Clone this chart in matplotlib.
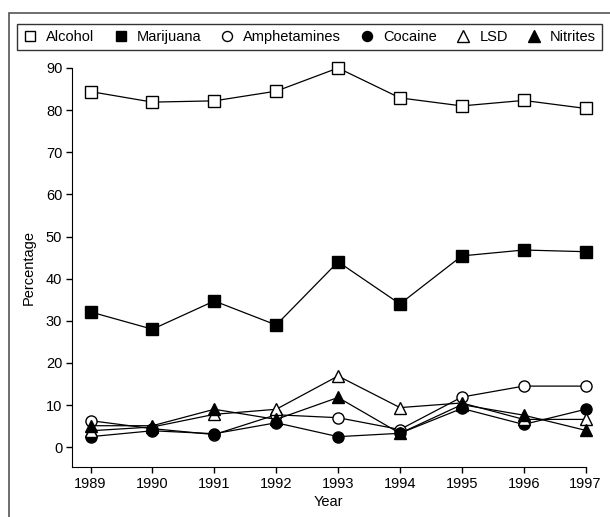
import numpy as np
import matplotlib
matplotlib.use("Agg")
import matplotlib.pyplot as plt
from matplotlib.patches import Rectangle

plt.rcParams['font.family'] = ['Liberation Sans', 'DejaVu Sans']

years = [1989, 1990, 1991, 1992, 1993, 1994, 1995, 1996, 1997]

alcohol      = [84.4, 81.9, 82.2, 84.5, 90.0, 82.9, 81.0, 82.3, 80.4]
marijuana    = [32.1, 28.0, 34.7, 29.0, 44.0, 34.0, 45.4, 46.8, 46.4]
amphetamines = [6.3, 4.4, 3.0, 7.7, 7.0, 4.2, 11.9, 14.5, 14.5]
cocaine      = [2.5, 3.9, 3.2, 5.8, 2.5, 3.3, 9.2, 5.4, 9.0]
lsd          = [3.9, 4.8, 7.8, 9.0, 16.9, 9.4, 10.5, 6.6, 6.6]
nitrites     = [5.1, 5.1, 9.0, 6.6, 11.8, 3.3, 10.1, 7.6, 4.0]

series = [
    ("Alcohol", alcohol, 's', 'white'),
    ("Marijuana", marijuana, 's', 'black'),
    ("Amphetamines", amphetamines, 'o', 'white'),
    ("Cocaine", cocaine, 'o', 'black'),
    ("LSD", lsd, '^', 'white'),
    ("Nitrites", nitrites, '^', 'black'),
]

fig = plt.figure(figsize=(6.1, 5.17), dpi=100)
ax = fig.add_axes([0.118, 0.0967, 0.842, 0.7718])

for name, vals, mk, fc in series:
    ms = 9 if mk == '^' else 8
    ax.plot(years, vals, color='black', lw=0.9, marker=mk, ms=ms,
            mfc=fc, mec='black', mew=1.0, label=name, clip_on=False)

ax.set_xlim(1988.70, 1997)
ax.set_ylim(-4.7, 90)
ax.set_xticks(years)
ax.set_yticks(np.arange(0, 91, 10))
ax.spines['top'].set_visible(False)
ax.spines['right'].set_visible(False)
ax.spines['left'].set_bounds(-4.7, 90)
ax.tick_params(direction='out', length=4.5, width=1, labelsize=10.5, pad=2.5)
ax.set_xlabel("Year", fontsize=10.5, labelpad=3)
ax.set_ylabel("Percentage", fontsize=10.5, labelpad=7)

leg = fig.legend(loc='lower left',
                 bbox_to_anchor=(17 / 610, 1 - 50 / 517, 585 / 610, 26 / 517),
                 mode='expand', borderaxespad=0, ncol=6,
                 frameon=True, fancybox=False, fontsize=10.5,
                 handlelength=1.0, handletextpad=0.6, columnspacing=1.0,
                 borderpad=0.4, edgecolor='black', markerscale=0.9)
leg.get_frame().set_linewidth(1.0)
for h in leg.legend_handles:
    h.set_linestyle('None')

# outer frame
fig.add_artist(Rectangle((9 / 610, -0.1), 1.2, 1 - 13 / 517 + 0.1,
                         transform=fig.transFigure, fill=False,
                         edgecolor='#555555', lw=1.2))

fig.savefig("out.png", dpi=100)
